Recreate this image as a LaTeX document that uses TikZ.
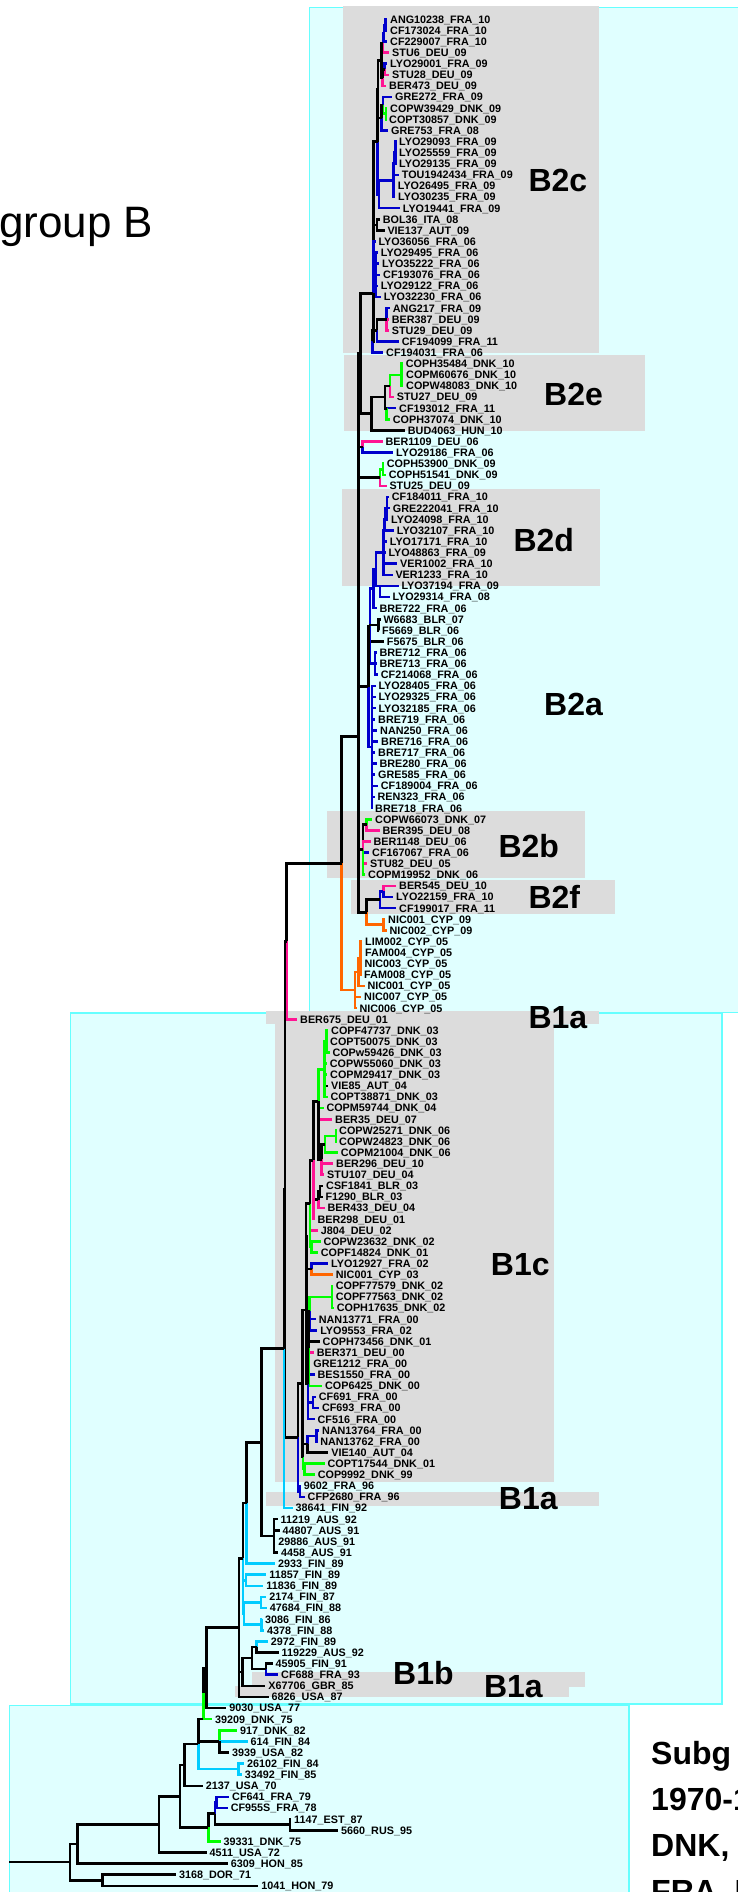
\documentclass[tikz,border=0pt]{standalone}
\usepackage{fontspec}
\setmainfont{Liberation Sans}
\usetikzlibrary{calc}
\definecolor{colB}{RGB}{0,0,204}
\definecolor{colP}{RGB}{255,20,147}
\definecolor{colG}{RGB}{0,255,0}
\definecolor{colO}{RGB}{255,102,0}
\definecolor{colL}{RGB}{0,204,255}
\definecolor{boxfill}{RGB}{224,255,255}
\definecolor{boxline}{RGB}{102,255,255}
\definecolor{grayb}{RGB}{220,220,220}
\tikzset{
  br/.style={line width=2.6pt},
  cB/.style={draw=colB}, cP/.style={draw=colP}, cG/.style={draw=colG},
  cO/.style={draw=colO}, cL/.style={draw=colL}, cK/.style={draw=black},
  lab/.style={anchor=west, inner xsep=2.8pt, inner ysep=0pt, text height=7.8pt, text depth=0pt,
    font=\bfseries\fontsize{10.8}{12}\selectfont},
  big/.style={anchor=base west, inner sep=0pt, font=\bfseries\fontsize{32}{36}\selectfont},
  side/.style={anchor=base west, inner sep=0pt, font=\bfseries\fontsize{32}{36}\selectfont},
  cbox/.style={draw=boxline, fill=boxfill, line width=1.5pt},
}
\newcommand\lf[3]{\node[lab] (L#1) at ({#2-2.8},{19.3+(#1-1)*11.11}) {#3};}
\newcommand\inode[3]{%
  \gdef\fc{}%
  \foreach \nch/\ncol in {#3}{\ifx\fc\empty\xdef\fc{\nch}\fi\xdef\lc{\nch}}%
  \path let \p1=(\fc),\p2=(\lc) in coordinate (#1) at (#2,{(\y1+\y2)/2});%
  \foreach \nch/\ncol in {#3}{\draw[br,\ncol] (#1) |- (\nch);}%
}
\newcommand\cnode[4]{%
  \coordinate (#1) at (#2,#3);%
  \foreach \nch/\ncol in {#4}{\draw[br,\ncol] (#1) |- (\nch);}%
}
\begin{document}
\begin{tikzpicture}[x=1pt,y=-1pt]
\useasboundingbox (0,0) rectangle (738,1892);
\clip (0,0) rectangle (738,1892);
\fill[white] (0,0) rectangle (738,1892);
% cyan boxes
\draw[cbox] (309.3,7.3) rectangle (760,1012.7);
\draw[cbox] (70.5,1013) rectangle (722,1704);
\draw[cbox] (9.4,1705.7) rectangle (629,1920);
% gray boxes
\fill[grayb] (343.3,6) rectangle (599,353.3);
\fill[grayb] (344,355) rectangle (645,430.7);
\fill[grayb] (342,489) rectangle (600,586);
\fill[grayb] (327,811) rectangle (585,877.7);
\fill[grayb] (351,880) rectangle (615,913.7);
\fill[grayb] (266,1011) rectangle (599,1024.3);
\fill[grayb] (275,1024) rectangle (554,1482);
\fill[grayb] (265.5,1492) rectangle (598.8,1505.7);
\fill[grayb] (252,1672.3) rectangle (584.5,1686.5);
\fill[grayb] (235,1686) rectangle (569,1696.7);
% leaves
\lf{1}{390}{ANG10238\_FRA\_10}
\lf{2}{390}{CF173024\_FRA\_10}
\lf{3}{390}{CF229007\_FRA\_10}
\lf{4}{392}{STU6\_DEU\_09}
\lf{5}{390}{LYO29001\_FRA\_09}
\lf{6}{392}{STU28\_DEU\_09}
\lf{7}{389}{BER473\_DEU\_09}
\lf{8}{395}{GRE272\_FRA\_09}
\lf{9}{390}{COPW39429\_DNK\_09}
\lf{10}{389}{COPT30857\_DNK\_09}
\lf{11}{391}{GRE753\_FRA\_08}
\lf{12}{399}{LYO29093\_FRA\_09}
\lf{13}{399}{LYO25559\_FRA\_09}
\lf{14}{399}{LYO29135\_FRA\_09}
\lf{15}{401.7}{TOU1942434\_FRA\_09}
\lf{16}{397.7}{LYO26495\_FRA\_09}
\lf{17}{398}{LYO30235\_FRA\_09}
\lf{18}{402.7}{LYO19441\_FRA\_09}
\lf{19}{382.7}{BOL36\_ITA\_08}
\lf{20}{387.3}{VIE137\_AUT\_09}
\lf{21}{378.3}{LYO36056\_FRA\_06}
\lf{22}{380.7}{LYO29495\_FRA\_06}
\lf{23}{382}{LYO35222\_FRA\_06}
\lf{24}{383}{CF193076\_FRA\_06}
\lf{25}{380.7}{LYO29122\_FRA\_06}
\lf{26}{383.7}{LYO32230\_FRA\_06}
\lf{27}{392.7}{ANG217\_FRA\_09}
\lf{28}{391.7}{BER387\_DEU\_09}
\lf{29}{391.7}{STU29\_DEU\_09}
\lf{30}{401.7}{CF194099\_FRA\_11}
\lf{31}{386}{CF194031\_FRA\_06}
\lf{32}{405.7}{COPH35484\_DNK\_10}
\lf{33}{406}{COPM60676\_DNK\_10}
\lf{34}{406}{COPW48083\_DNK\_10}
\lf{35}{396.7}{STU27\_DEU\_09}
\lf{36}{399}{CF193012\_FRA\_11}
\lf{37}{392.7}{COPH37074\_DNK\_10}
\lf{38}{407.7}{BUD4063\_HUN\_10}
\lf{39}{385.3}{BER1109\_DEU\_06}
\lf{40}{396}{LYO29186\_FRA\_06}
\lf{41}{386.7}{COPH53900\_DNK\_09}
\lf{42}{388.7}{COPH51541\_DNK\_09}
\lf{43}{389.3}{STU25\_DEU\_09}
\lf{44}{391.7}{CF184011\_FRA\_10}
\lf{45}{392.7}{GRE222041\_FRA\_10}
\lf{46}{391}{LYO24098\_FRA\_10}
\lf{47}{396.7}{LYO32107\_FRA\_10}
\lf{48}{389.7}{LYO17171\_FRA\_10}
\lf{49}{388.3}{LYO48863\_FRA\_09}
\lf{50}{400}{VER1002\_FRA\_10}
\lf{51}{395.3}{VER1233\_FRA\_10}
\lf{52}{401.3}{LYO37194\_FRA\_09}
\lf{53}{392.3}{LYO29314\_FRA\_08}
\lf{54}{379.3}{BRE722\_FRA\_06}
\lf{55}{383.3}{W6683\_BLR\_07}
\lf{56}{382}{F5669\_BLR\_06}
\lf{57}{386.7}{F5675\_BLR\_06}
\lf{58}{379.3}{BRE712\_FRA\_06}
\lf{59}{379.3}{BRE713\_FRA\_06}
\lf{60}{380.7}{CF214068\_FRA\_06}
\lf{61}{378.3}{LYO28405\_FRA\_06}
\lf{62}{378.3}{LYO29325\_FRA\_06}
\lf{63}{378.3}{LYO32185\_FRA\_06}
\lf{64}{378}{BRE719\_FRA\_06}
\lf{65}{380}{NAN250\_FRA\_06}
\lf{66}{381}{BRE716\_FRA\_06}
\lf{67}{378}{BRE717\_FRA\_06}
\lf{68}{379.3}{BRE280\_FRA\_06}
\lf{69}{378}{GRE585\_FRA\_06}
\lf{70}{380.7}{CF189004\_FRA\_06}
\lf{71}{377.3}{REN323\_FRA\_06}
\lf{72}{375}{BRE718\_FRA\_06}
\lf{73}{375}{COPW66073\_DNK\_07}
\lf{74}{382.3}{BER395\_DEU\_08}
\lf{75}{373.3}{BER1148\_DEU\_06}
\lf{76}{372}{CF167067\_FRA\_06}
\lf{77}{370}{STU82\_DEU\_05}
\lf{78}{368}{COPM19952\_DNK\_06}
\lf{79}{399}{BER545\_DEU\_10}
\lf{80}{396}{LYO22159\_FRA\_10}
\lf{81}{399}{CF199017\_FRA\_11}
\lf{82}{388}{NIC001\_CYP\_09}
\lf{83}{389.3}{NIC002\_CYP\_09}
\lf{84}{365}{LIM002\_CYP\_05}
\lf{85}{365}{FAM004\_CYP\_05}
\lf{86}{364.3}{NIC003\_CYP\_05}
\lf{87}{364}{FAM008\_CYP\_05}
\lf{88}{367.3}{NIC001\_CYP\_05}
\lf{89}{364}{NIC007\_CYP\_05}
\lf{90}{359.3}{NIC006\_CYP\_05}
\lf{91}{300}{BER675\_DEU\_01}
\lf{92}{331}{COPF47737\_DNK\_03}
\lf{93}{330}{COPT50075\_DNK\_03}
\lf{94}{332.3}{COPw59426\_DNK\_03}
\lf{95}{329.7}{COPW55060\_DNK\_03}
\lf{96}{330}{COPM29417\_DNK\_03}
\lf{97}{331}{VIE85\_AUT\_04}
\lf{98}{330.3}{COPT38871\_DNK\_03}
\lf{99}{326.3}{COPM59744\_DNK\_04}
\lf{100}{335}{BER35\_DEU\_07}
\lf{101}{339}{COPW25271\_DNK\_06}
\lf{102}{339}{COPW24823\_DNK\_06}
\lf{103}{340.7}{COPM21004\_DNK\_06}
\lf{104}{336}{BER296\_DEU\_10}
\lf{105}{327}{STU107\_DEU\_04}
\lf{106}{326}{CSF1841\_BLR\_03}
\lf{107}{325.3}{F1290\_BLR\_03}
\lf{108}{327.3}{BER433\_DEU\_04}
\lf{109}{317.3}{BER298\_DEU\_01}
\lf{110}{320.7}{J804\_DEU\_02}
\lf{111}{323.3}{COPW23632\_DNK\_02}
\lf{112}{320.7}{COPF14824\_DNK\_01}
\lf{113}{331}{LYO12927\_FRA\_02}
\lf{114}{335.7}{NIC001\_CYP\_03}
\lf{115}{335.6}{COPF77579\_DNK\_02}
\lf{116}{335.6}{COPF77563\_DNK\_02}
\lf{117}{336.6}{COPH17635\_DNK\_02}
\lf{118}{318.7}{NAN13771\_FRA\_00}
\lf{119}{320.1}{LYO9553\_FRA\_02}
\lf{120}{322.5}{COPH73456\_DNK\_01}
\lf{121}{316.7}{BER371\_DEU\_00}
\lf{122}{313.2}{GRE1212\_FRA\_00}
\lf{123}{317.4}{BES1550\_FRA\_00}
\lf{124}{324.9}{COP6425\_DNK\_00}
\lf{125}{318.7}{CF691\_FRA\_00}
\lf{126}{321.8}{CF693\_FRA\_00}
\lf{127}{317.4}{CF516\_FRA\_00}
\lf{128}{321.8}{NAN13764\_FRA\_00}
\lf{129}{320.1}{NAN13762\_FRA\_00}
\lf{130}{331.1}{VIE140\_AUT\_04}
\lf{131}{327.4}{COPT17544\_DNK\_01}
\lf{132}{317.6}{COP9992\_DNK\_99}
\lf{133}{303.7}{9602\_FRA\_96}
\lf{134}{307.5}{CFP2680\_FRA\_96}
\lf{135}{295.5}{38641\_FIN\_92}
\lf{136}{280.5}{11219\_AUS\_92}
\lf{137}{282.4}{44807\_AUS\_91}
\lf{138}{278.2}{29886\_AUS\_91}
\lf{139}{280.9}{4458\_AUS\_91}
\lf{140}{277.9}{2933\_FIN\_89}
\lf{141}{269.2}{11857\_FIN\_89}
\lf{142}{266.2}{11836\_FIN\_89}
\lf{143}{269.2}{2174\_FIN\_87}
\lf{144}{269.6}{47684\_FIN\_88}
\lf{145}{265}{3086\_FIN\_86}
\lf{146}{266.8}{4378\_FIN\_88}
\lf{147}{270.6}{2972\_FIN\_89}
\lf{148}{281.4}{119229\_AUS\_92}
\lf{149}{275.3}{45905\_FIN\_91}
\lf{150}{281}{CF688\_FRA\_93}
\lf{151}{268.2}{X67706\_GBR\_85}
\lf{152}{271.5}{6826\_USA\_87}
\lf{153}{229.2}{9030\_USA\_77}
\lf{154}{215}{39209\_DNK\_75}
\lf{155}{240}{917\_DNK\_82}
\lf{156}{250.4}{614\_FIN\_84}
\lf{157}{232}{3939\_USA\_82}
\lf{158}{247}{26102\_FIN\_84}
\lf{159}{244.7}{33492\_FIN\_85}
\lf{160}{205.6}{2137\_USA\_70}
\lf{161}{232}{CF641\_FRA\_79}
\lf{162}{230.6}{CF955S\_FRA\_78}
\lf{163}{294}{1147\_EST\_87}
\lf{164}{341}{5660\_RUS\_95}
\lf{165}{223.5}{39331\_DNK\_75}
\lf{166}{209.4}{4511\_USA\_72}
\lf{167}{230.6}{6309\_HON\_85}
\lf{168}{178.8}{3168\_DOR\_71}
\lf{169}{261.2}{1041\_HON\_79}
% ---- tree: B2c
\inode{a1}{385.5}{L1/cB,L2/cB}
\inode{a2}{384}{a1/cB,L3/cB}
\inode{a3}{383}{a2/cB,L4/cP}
\inode{a4}{384.5}{L5/cB,L6/cP}
\inode{a5}{382.5}{a4/cK,L7/cP}
\inode{a6}{381.5}{a3/cK,a5/cK}
\inode{a7}{386}{L9/cG,L10/cG}
\inode{a8}{383}{L8/cB,a7/cG}
\inode{a9}{381.5}{a8/cK,L11/cB}
\inode{a11}{378}{a6/cK,a9/cK}
\inode{b0}{395.5}{L12/cB,L13/cB,L14/cB}
\inode{b0b}{394}{b0/cB,L15/cB}
\inode{b1}{393.3}{b0b/cB,L16/cB,L17/cB}
\inode{b2}{379}{b1/cB,L18/cB}
\inode{a12}{377.5}{a11/cK,b2/cB}
\inode{c1}{377}{L19/cK,L20/cK}
\inode{c2}{376}{L22/cB,L23/cB,L24/cB,L25/cB,L26/cB}
\inode{e1}{386.7}{L27/cB,L28/cP,L29/cP}
\inode{e2}{377}{e1/cK,L30/cB}
\inode{e3}{372.7}{e2/cK,L31/cB}
\cnode{g}{373.3}{293.3}{a12/cK,c1/cK,L21/cB,c2/cB,e3/cK}
% B2e
\inode{h1}{401.5}{L32/cG,L33/cG,L34/cG}
\inode{h2}{390}{h1/cG,L35/cP}
\cnode{h4}{386.7}{408.2}{L36/cB,L37/cG}
\inode{h3}{385}{h2/cK,h4/cK}
\inode{h5}{371.7}{h3/cK,L38/cK}
\inode{i1}{360.5}{g/cK,h5/cK}
\inode{k1}{362.7}{L39/cP,L40/cB}
\inode{m1}{383}{L41/cG,L42/cG}
\inode{m2}{380}{m1/cG,L43/cP}
% B2d / B2a
\inode{n1}{387}{L44/cB,L45/cB,L46/cB}
\inode{n2}{385}{n1/cB,L47/cB}
\inode{n3}{384}{n2/cB,L48/cB}
\inode{n4}{383.3}{n3/cB,L49/cB,L50/cB,L51/cB}
\cnode{n5}{380}{585.9}{L52/cB,L53/cB}
\inode{n6}{376}{n4/cB,n5/cB}
\inode{n7}{373.3}{n6/cB,L54/cB}
\inode{o1}{378.3}{L55/cK,L56/cK}
\inode{o2}{375}{L58/cB,L59/cB,L60/cB}
\inode{o4}{370}{n7/cB,o1/cK,L57/cK,o2/cB}
\inode{o3}{372}{L61/cB,L62/cB,L63/cB,L64/cB,L65/cB,L66/cB,L67/cB,L68/cB,L69/cB,L70/cB,L71/cB,L72/cB}
\inode{o5}{368.3}{o4/cK,o3/cB}
% B2b
\inode{p1}{366.7}{L73/cG,L74/cP}
\inode{p2}{363}{p1/cK,L75/cP,L76/cB,L77/cP,L78/cG}
% B2f
\inode{q1}{383.3}{L79/cP,L80/cB}
\inode{q2}{380}{q1/cB,L81/cB}
\inode{q3}{383.3}{L82/cO,L83/cO}
\inode{q4}{366.7}{q2/cK,q3/cO}
\cnode{j}{358.3}{736.7}{i1/cK,k1/cK,m2/cK,o5/cK,p2/cK,q4/cK}
% CYP 05
\inode{r1}{360.5}{L84/cO,L85/cO,L86/cO,L87/cO}
\inode{r2}{358.3}{r1/cO,L88/cO}
\inode{r3}{355}{r2/cO,L89/cO,L90/cO}
\inode{t1}{341.7}{j/cK,r3/cO}
\inode{S}{286.7}{t1/cK,L91/cP}
% B1c
\inode{u1}{326.5}{L92/cG,L93/cG,L94/cG}
\inode{u2}{324.5}{u1/cG,L95/cG,L96/cG,L97/cK,L98/cG}
\inode{v1}{336}{L101/cG,L102/cG}
\inode{v2}{325}{v1/cG,L103/cG}
\inode{v3}{321.7}{v2/cK,L104/cP,L105/cP}
\inode{u5}{318.3}{L99/cG,L100/cP,v3/cK}
\inode{u3}{318.3}{u2/cG,u5/cK}
\inode{w1}{320}{L106/cK,L107/cK}
\inode{w2}{318.3}{w1/cK,L108/cP}
\inode{w3}{313.3}{u3/cK,w2/cK,L109/cP}
\inode{x1}{311.7}{L111/cG,L112/cG}
\inode{w4}{310}{w3/cK,L110/cP,x1/cG}
\inode{x2}{311.7}{L113/cB,L114/cO}
\inode{w5}{306}{w4/cK,x2/cK}
\inode{y1}{332.1}{L115/cG,L116/cG,L117/cG}
\inode{y2}{309.8}{L118/cB,L119/cB}
\inode{y3}{309.3}{y1/cG,y2/cB}
\inode{z2}{308.5}{y3/cK,L120/cK,L121/cP,L122/cB,L123/cB,L124/cG}
\inode{z3}{313}{L125/cB,L126/cB}
\inode{zz}{308.1}{z2/cK,z3/cB,L127/cB}
\inode{z12}{306.4}{w5/cK,zz/cK}
\inode{z5}{316.7}{L128/cB,L129/cB}
\inode{z6}{307.5}{z5/cB,L130/cK}
\inode{z7}{304.5}{L131/cG,L132/cG}
\inode{z8}{303}{z6/cK,z7/cG}
\inode{z10}{302.3}{z12/cK,z8/cK}
\inode{z11}{300}{L133/cB,L134/cB}
\inode{B1c}{298}{z10/cK,z11/cB}
\inode{Q}{285}{S/cK,B1c/cK}
\inode{P}{284}{Q/cK,L135/cL}
% lower part
\inode{ac1}{274}{L136/cK,L137/cK,L138/cK,L139/cK}
\inode{N2}{261.7}{P/cK,ac1/cK}
\inode{N3}{246.7}{N2/cK,L140/cL}
\inode{fc1}{246}{L141/cL,L142/cL}
\inode{fc2}{261}{L143/cL,L144/cL}
\inode{fc3}{261.2}{L145/cL,L146/cL}
\inode{fc4}{243.8}{fc2/cL,fc3/cL}
\inode{N4}{243}{N3/cK,fc1/cL,fc4/cL}
\inode{bc1}{256.5}{L147/cL,L148/cK}
\inode{bc2}{265.9}{L149/cK,L150/cB}
\inode{bc3}{251.8}{bc1/cK,bc2/cK}
\inode{bc4}{242.4}{bc3/cK,L151/cK}
\inode{N5}{239}{N4/cK,bc4/cK,L152/cK}
\inode{N6}{206.7}{N5/cK,L153/cK}
\inode{N7}{203.3}{N6/cK,L154/cG}
\path let \p1=(L154) in coordinate (Y) at (203.3,\y1);
\inode{fc5}{238.3}{L158/cL,L159/cL}
\inode{dn2}{219.3}{L155/cG,L156/cL,L157/cK}
\inode{X}{198.3}{Y/cK,dn2/cK,fc5/cL}
\inode{N9a}{184.3}{X/cK,L160/cK}
\inode{bl1}{216.7}{L161/cB,L162/cB}
\inode{rs1}{290}{L163/cK,L164/cK}
\inode{bl2}{215}{bl1/cB,rs1/cK}
\inode{bl3}{208.3}{bl2/cK,L165/cG}
\inode{N9}{180}{N9a/cK,bl3/cK}
\inode{R3}{159}{N9/cK,L166/cK}
\inode{R1}{77.3}{R3/cK,L167/cK}
\inode{R2}{102.7}{L168/cK,L169/cK}
\inode{R0}{70}{R1/cK,R2/cK}
\coordinate (rx) at (9.4,0);
\draw[br] (rx |- R0) -- (R0);
% big labels
\node[big] (tB2c) at (528.3,191.7) {B2c};
\node[big] (tB2e) at (544,405.7) {B2e};
\node[big] (tB2d) at (513.3,551) {B2d};
\node[big] (tB2a) at (544,715) {B2a};
\node[big] (tB2b) at (498.3,857.3) {B2b};
\node[big] (tB2f) at (528.3,908.3) {B2f};
\node[big] (tB1a1) at (528.3,1028.3) {B1a};
\node[big] (tB1c) at (490.7,1275) {B1c};
\node[big] (tB1a2) at (498.7,1509.3) {B1a};
\node[big] (tB1b) at (393,1684) {B1b};
\node[big] (tB1a3) at (483.8,1697.3) {B1a};
% side texts
\node[anchor=base west, inner sep=0pt, font=\fontsize{44}{48}\selectfont] (tgrp) at (-1,237) {group B};
\node[side] (ts1) at (651,1764) {Subg};
\node[side] (ts2) at (651,1810) {1970-1};
\node[side] (ts3) at (651,1856) {DNK, I};
\node[side] (ts4) at (651,1902) {FRA, I};
\end{tikzpicture}
\end{document}
